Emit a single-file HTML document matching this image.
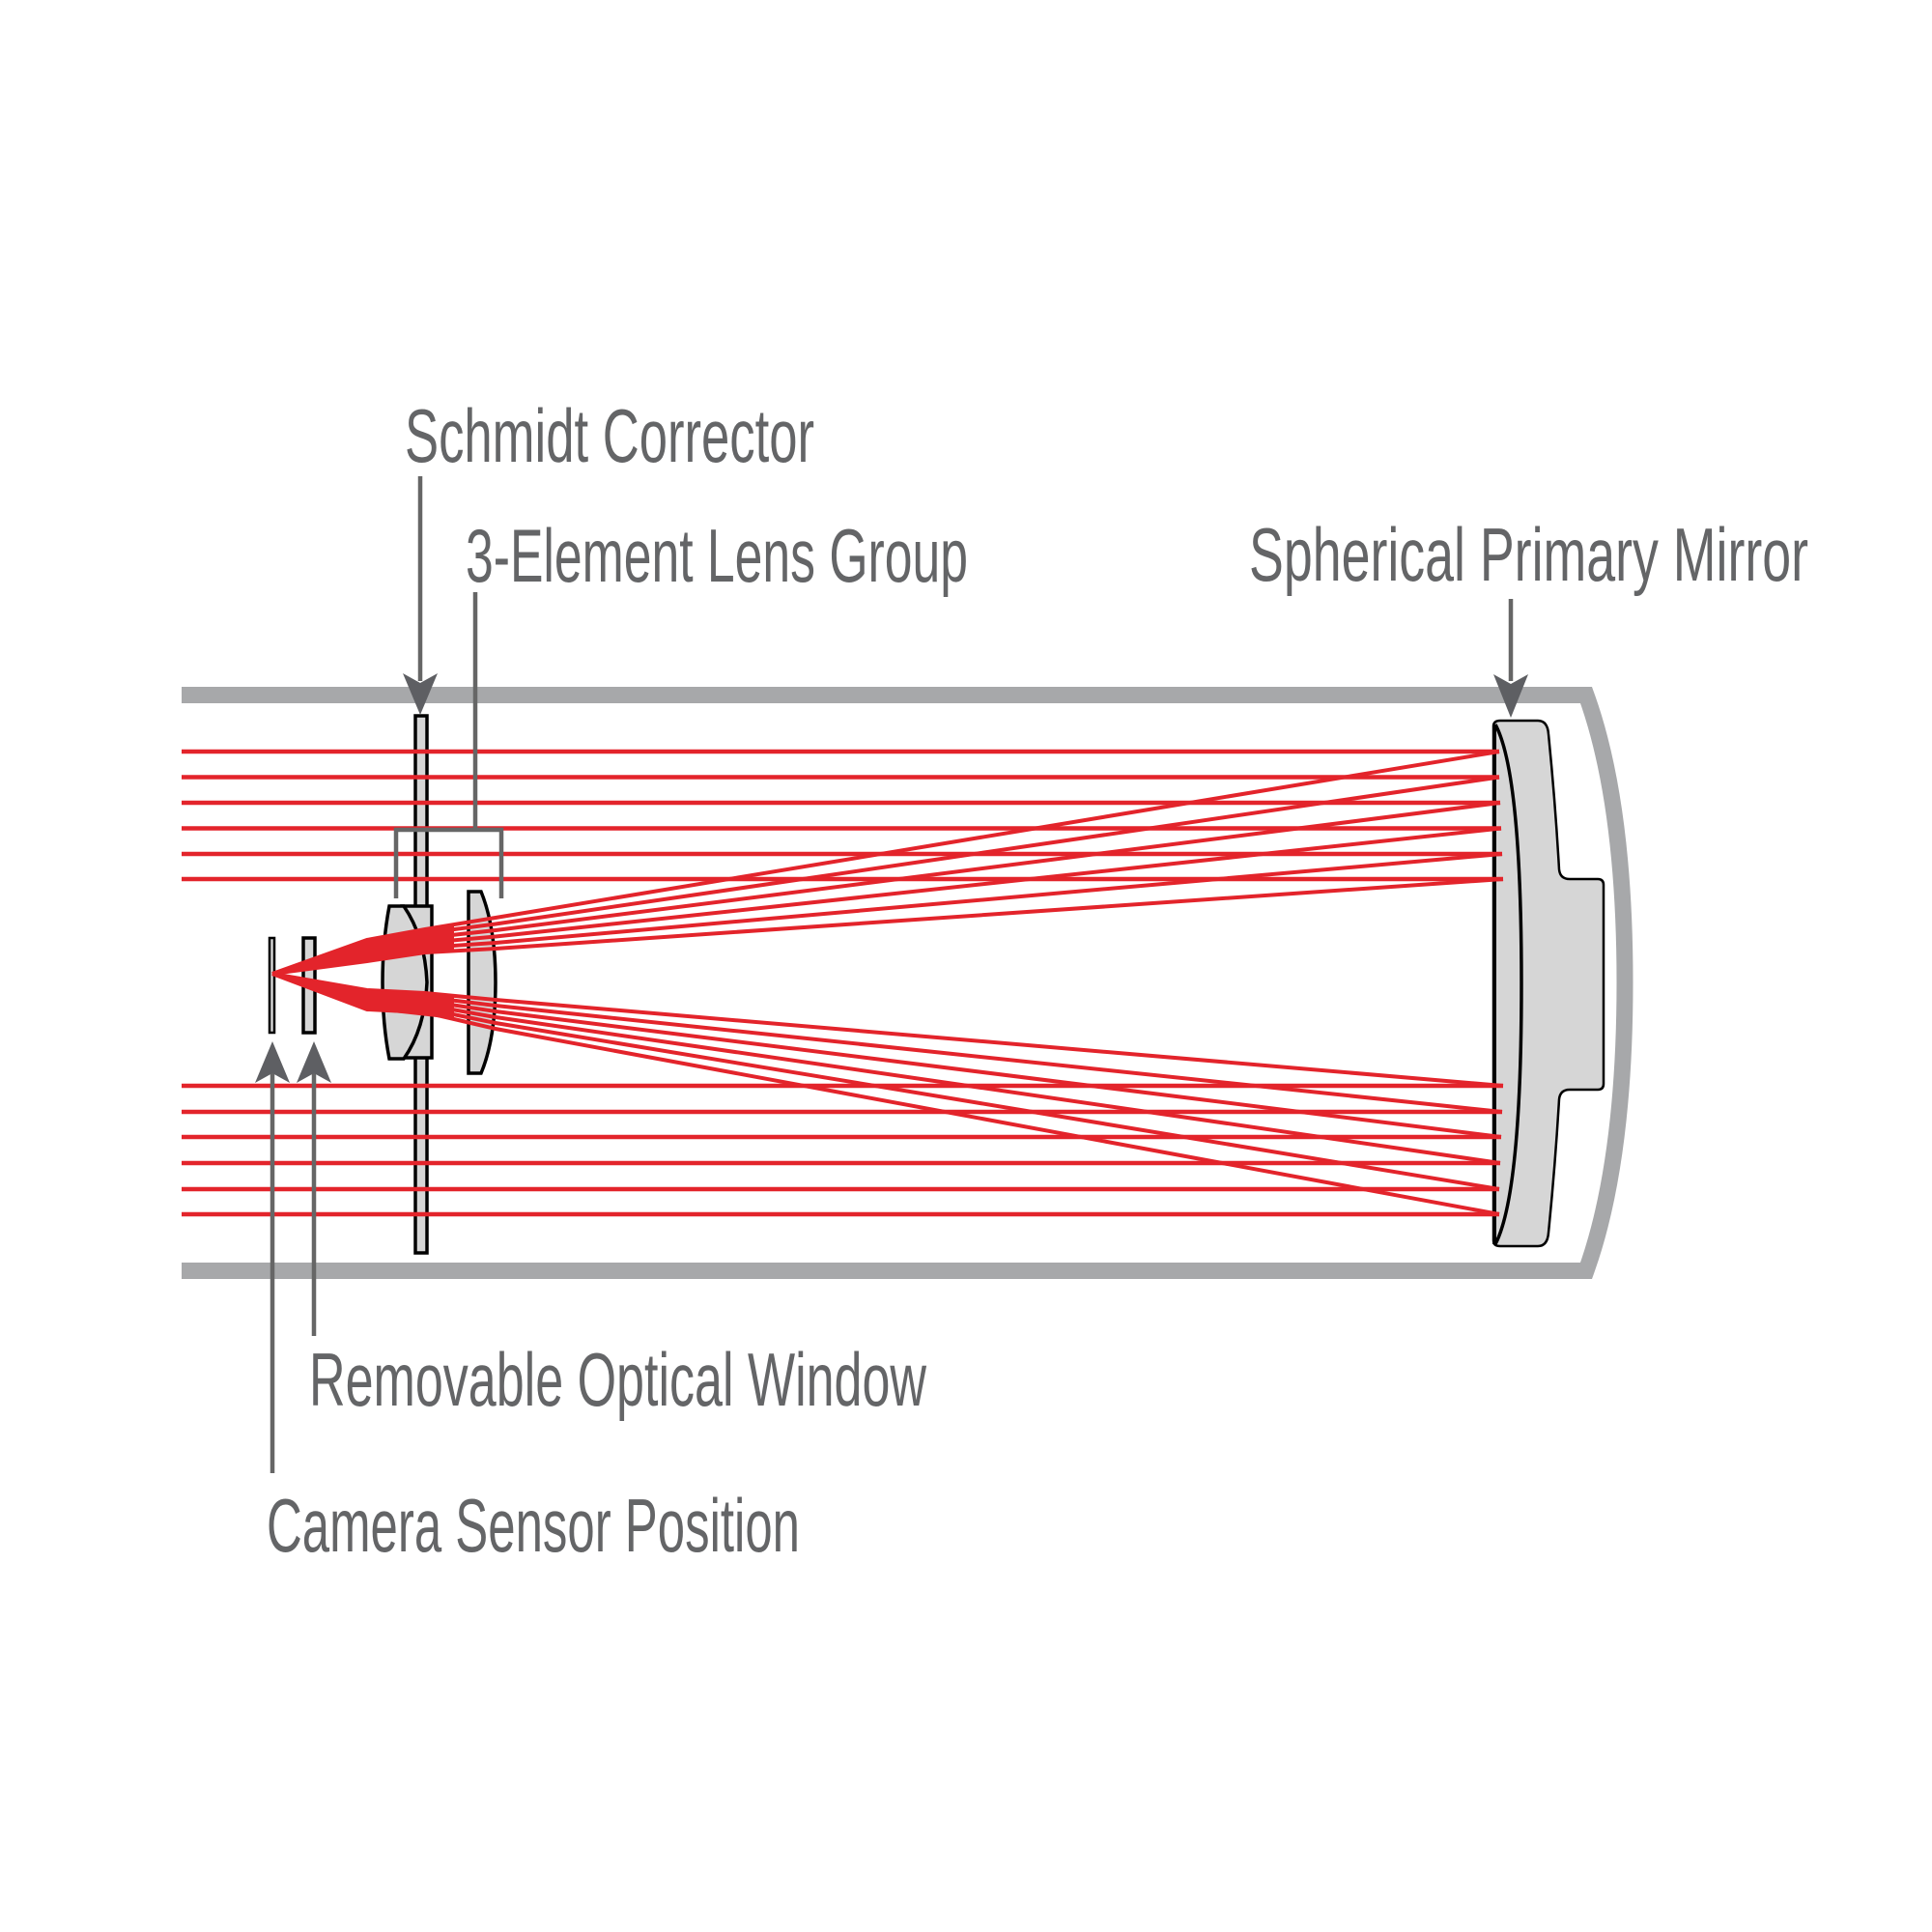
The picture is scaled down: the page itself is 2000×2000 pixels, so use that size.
<!DOCTYPE html>
<html><head><meta charset="utf-8"><style>html,body{margin:0;padding:0;background:#fff}svg{display:block}</style></head>
<body>
<svg width="2000" height="2000" viewBox="0 0 2000 2000" xmlns="http://www.w3.org/2000/svg">
<rect width="2000" height="2000" fill="#fff"/>
<!-- tube -->
<path d="M188 719.5 H1642 Q1682 830 1682 1017 Q1682 1204 1642 1315.5 H188" fill="none" stroke="#a7a8aa" stroke-width="17"/>
<!-- mirror -->
<path d="M1546 752 Q1546 746 1553 746 H1592 Q1602 746 1603 760 Q1610 830 1614 900 Q1615 910 1625 910 H1654 Q1660 910 1660 916 V1122 Q1660 1128 1654 1128 H1625 Q1615 1128 1614 1138 Q1610 1206 1603 1276 Q1602 1290 1592 1290 H1553 Q1546 1290 1546 1284 Z" fill="#d6d6d6" stroke="#000" stroke-width="2.5"/>
<path d="M1548 750 Q1575 800 1575 1018 Q1575 1236 1548 1288" fill="none" stroke="#000" stroke-width="3.5"/>
<line x1="1547" y1="750" x2="1547" y2="1288" stroke="#000" stroke-width="4"/>
<!-- corrector plate -->
<rect x="430" y="741" width="12" height="556" fill="#d6d6d6" stroke="#000" stroke-width="3.5"/>
<!-- lens group -->
<rect x="416" y="938" width="31" height="157" fill="#d6d6d6" stroke="#000" stroke-width="3.5"/>
<path d="M403 938 H418 Q440 970 442 1017 Q440 1065 418 1096 H403 Q396 1060 396 1017 Q396 975 403 938 Z" fill="#d6d6d6" stroke="#000" stroke-width="3.5"/>
<path d="M485 923 H498 Q513 960 513 1017 Q513 1075 498 1111 H485 Z" fill="#d6d6d6" stroke="#000" stroke-width="3.5"/>
<!-- sensor & window -->
<rect x="279" y="971" width="5" height="98" fill="#d6d6d6" stroke="#000" stroke-width="2.5"/>
<rect x="314" y="971" width="12" height="98" fill="#d6d6d6" stroke="#000" stroke-width="3.5"/>
<!-- incoming horizontal rays -->
<g stroke="#e3242b" stroke-width="4.5">
<line x1="188" y1="778" x2="1552" y2="778"/>
<line x1="188" y1="804.5" x2="1552" y2="804.5"/>
<line x1="188" y1="831" x2="1553" y2="831"/>
<line x1="188" y1="857.5" x2="1554" y2="857.5"/>
<line x1="188" y1="884" x2="1555" y2="884"/>
<line x1="188" y1="910" x2="1556" y2="910"/>
<line x1="188" y1="1124" x2="1556" y2="1124"/>
<line x1="188" y1="1151" x2="1555" y2="1151"/>
<line x1="188" y1="1177" x2="1554" y2="1177"/>
<line x1="188" y1="1204" x2="1553" y2="1204"/>
<line x1="188" y1="1231" x2="1552" y2="1231"/>
<line x1="188" y1="1257" x2="1552" y2="1257"/>
</g>
<!-- reflected rays -->
<g stroke="#e3242b" stroke-width="4" fill="none">
<polyline points="1552,778 513,950 440,962 380,973 282,1008"/>
<polyline points="1552,804.5 513,956.5 440,966 380,977 282,1008"/>
<polyline points="1553,831 513,963 440,971 380,982 282,1008"/>
<polyline points="1554,857.5 513,969.5 440,976 380,986 282,1008"/>
<polyline points="1555,884 513,976 440,981 380,990 282,1008"/>
<polyline points="1556,910 513,982 440,986 380,995 282,1008"/>
<polyline points="1556,1124 513,1035 440,1028 380,1025 282,1008"/>
<polyline points="1555,1151 513,1041 440,1032 380,1029 282,1008"/>
<polyline points="1554,1177 513,1047 440,1036 380,1033 282,1008"/>
<polyline points="1553,1204 513,1053 440,1040 380,1037 282,1008"/>
<polyline points="1552,1231 513,1059 440,1044 380,1041 282,1008"/>
<polyline points="1552,1257 513,1065 440,1048 380,1045 282,1008"/>
</g>
<polygon points="282,1008 380,973 470,957 470,984 380,995" fill="#e3242b"/>
<polygon points="282,1008 380,1025 470,1031 470,1055 380,1045" fill="#e3242b"/>
<!-- leaders -->
<g stroke="#666" stroke-width="4.5" fill="none">
<line x1="435" y1="493" x2="435" y2="705"/>
<polyline points="492,613 492,859"/>
<polyline points="410,930 410,859 519,859 519,930"/>
<line x1="1564" y1="620" x2="1564" y2="705"/>
<line x1="282" y1="1110" x2="282" y2="1525"/>
<line x1="325" y1="1110" x2="325" y2="1383"/>
</g>
<g fill="#5e5f63">
<polygon points="435,740 417,697 435,707 453,697"/>
<polygon points="1564,743 1546,698 1564,708 1582,698"/>
<polygon points="282,1078 264,1121 282,1111 300,1121"/>
<polygon points="325,1078 307,1121 325,1111 343,1121"/>
</g>
<!-- labels -->
<g fill="#646567" font-family="Liberation Sans Narrow, Liberation Sans, sans-serif" font-size="78">
<text x="419" y="478" textLength="424" lengthAdjust="spacingAndGlyphs">Schmidt Corrector</text>
<text x="482" y="602" textLength="520" lengthAdjust="spacingAndGlyphs">3-Element Lens Group</text>
<text x="1293" y="601" textLength="579" lengthAdjust="spacingAndGlyphs">Spherical Primary Mirror</text>
<text x="320" y="1455" textLength="639" lengthAdjust="spacingAndGlyphs">Removable Optical Window</text>
<text x="276" y="1606" textLength="552" lengthAdjust="spacingAndGlyphs">Camera Sensor Position</text>
</g>
</svg>
</body></html>
